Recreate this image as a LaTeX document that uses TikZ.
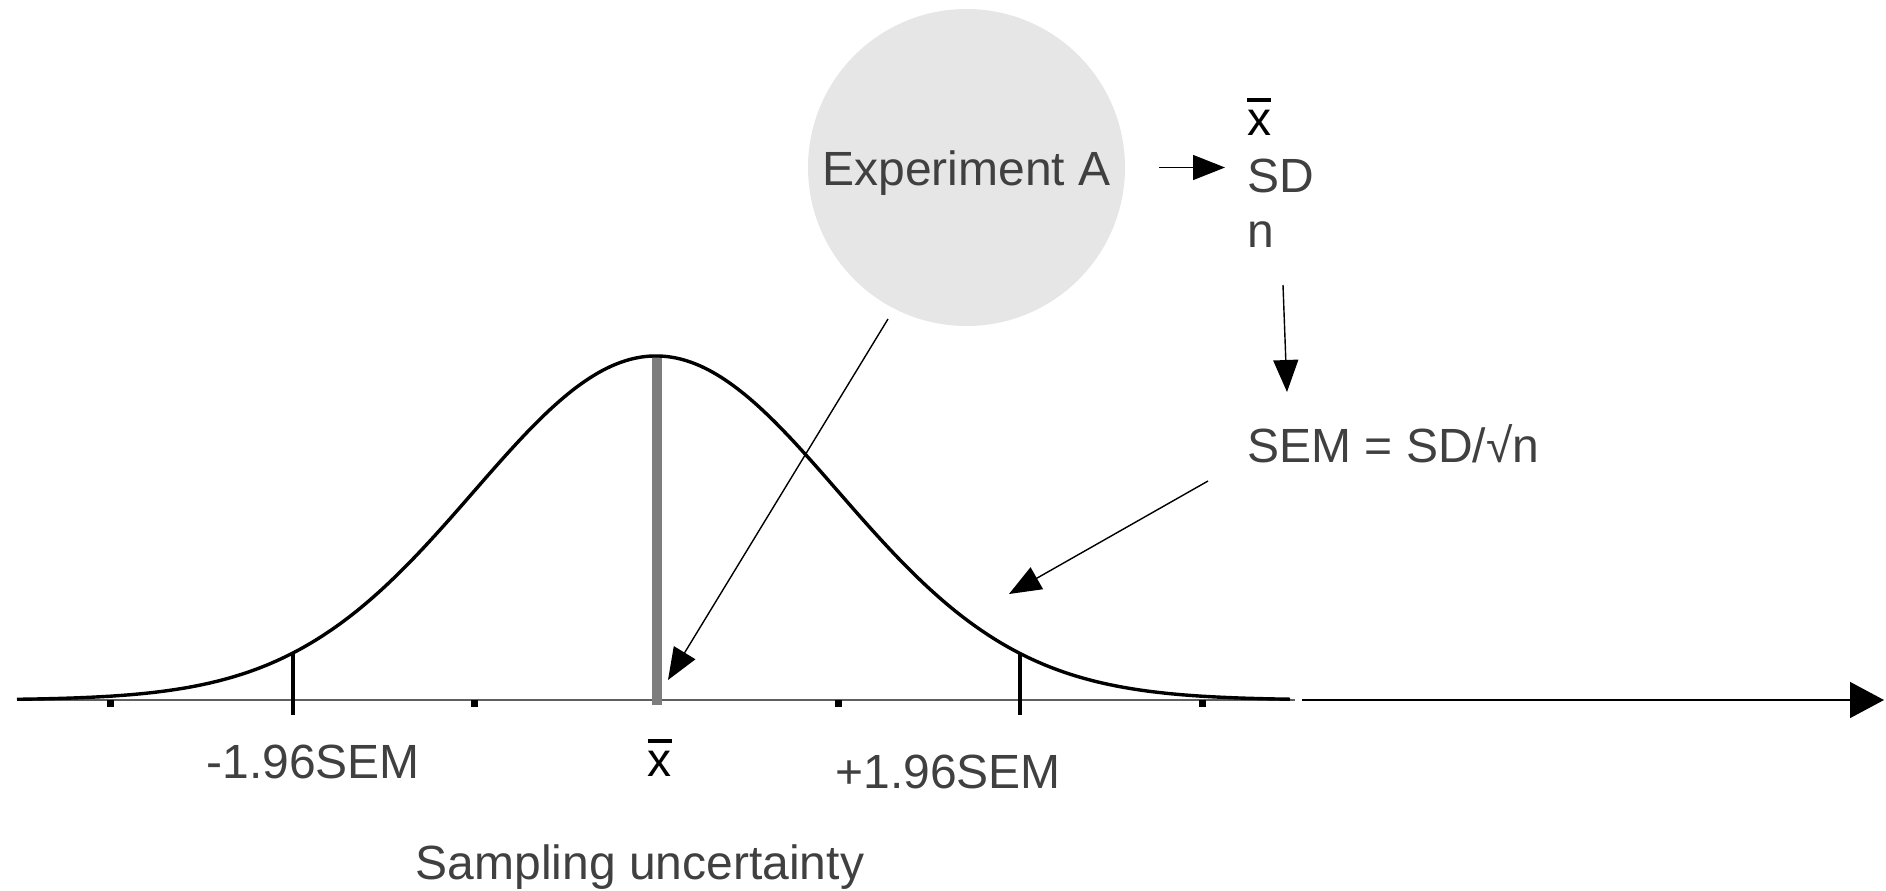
\documentclass[tikz,border=0pt]{standalone}
\usepackage{fontspec}
\setmainfont{Liberation Sans}
\usetikzlibrary{arrows.meta}
\definecolor{txt}{RGB}{64,64,64}
\definecolor{circfill}{RGB}{230,230,230}
\definecolor{barcol}{RGB}{125,125,125}
\definecolor{axgray}{RGB}{95,95,95}
\newcommand{\xbarsym}{\rlap{\raisebox{16.4pt}{\rule{12pt}{1.9pt}}}x}
\begin{document}
\begin{tikzpicture}[x=0.5pt,y=-0.5pt,
  lbl/.style={inner sep=0pt, text=txt, font=\fontsize{24}{28}\selectfont},
  sym/.style={lbl, text=black},
  arr/.style={-{Triangle[length=16pt,width=12.5pt]}, line width=0.7pt, black},
  tickbox/.style={fill=black},
]
\useasboundingbox (0,0) rectangle (1886,890);

% experiment circle
\node[circle, fill=circfill, minimum size=158.5pt, inner sep=0pt] (circ) at (966.5,167.5) {};
\node[lbl, anchor=base] (expA) at (966.5,185) {Experiment A};

% statistics
\node[sym, anchor=base west] (xbar1) at (1247,135) {\xbarsym};
\node[lbl, anchor=base west] (sd) at (1247,192) {SD};
\node[lbl, anchor=base west] (nn) at (1247,247) {n};
\node[lbl, anchor=base west] (sem) at (1247,462) {SEM = SD/√n};

% axis labels
\node[lbl, anchor=base west] (lo) at (206,778) {-1.96SEM};
\node[sym, anchor=base] (xbar2) at (659.5,776) {\xbarsym};
\node[lbl, anchor=base west] (hi) at (835,788) {+1.96SEM};
\node[lbl, anchor=base] (samp) at (640,879) {Sampling uncertainty};

% axis
\draw[axgray, line width=1pt] (17,700) -- (1295,700);
\coordinate (axs) at (1302,700);
\coordinate (axe) at (1884,700);
\draw[black, line width=0.75pt, -{Triangle[length=17pt,width=18pt]}] (axs) -- (axe);

% centre bar
\draw[barcol, line width=5pt] (656.5,356) -- (656.5,705);

% small ticks
\foreach \t in {110,474,838,1202}
  \fill[tickbox] (\t-3.5,700) rectangle (\t+3.5,707);

% normal curve
\draw[black, line width=1.7pt] plot[domain=17:1290, samples=260, smooth]
  (\x,{700-344*exp(-0.5*((\x-656)/182)*((\x-656)/182))});

% 1.96 SEM ticks
\draw[black, line width=1.7pt] (293,653) -- (293,715);
\draw[black, line width=1.7pt] (1020,653) -- (1020,715);

% connectors
\draw[arr] ([xshift=17pt]circ.east) -- ([xshift=-11pt]sd.west |- circ.east);
\coordinate (c2s) at (888,319);
\coordinate (c2e) at (668,680);
\draw[arr] (c2s) -- (c2e);
\coordinate (c3s) at (1283,285);
\coordinate (c3e) at (1287,392);
\draw[arr] (c3s) -- (c3e);
\coordinate (c4s) at (1208,481);
\coordinate (c4e) at (1009,594);
\draw[arr] (c4s) -- (c4e);
\end{tikzpicture}
\end{document}
